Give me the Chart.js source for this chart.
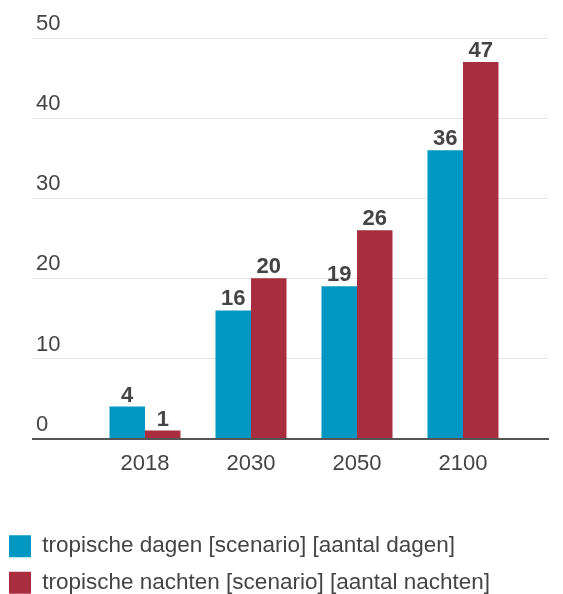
<!DOCTYPE html>
<html><head><meta charset="utf-8">
<script src="https://cdn.jsdelivr.net/npm/chart.js@4"></script>
<style>html,body{margin:0;padding:0;background:#fff}</style>
</head><body>
<canvas id="c" width="563" height="594"></canvas>
<script>
const categories = ['2018', '2030', '2050', '2100'];
const tropischeDagen = [4, 16, 19, 36];
const tropischeNachten = [1, 20, 26, 47];
const yTickValues = [0, 10, 20, 30, 40, 50];
const seriesNames = ['tropische dagen [scenario] [aantal dagen]', 'tropische nachten [scenario] [aantal nachten]'];
const seriesColors = ['#0097c2', '#a82e3f'];

const FONT = "'Liberation Sans', Arial, sans-serif";
Chart.defaults.font.family = FONT;

const valueLabels = {
  id: 'valueLabels',
  afterDatasetsDraw(chart) {
    const ctx = chart.ctx;
    ctx.save();
    ctx.font = 'bold 22px ' + FONT;
    ctx.fillStyle = '#444';
    ctx.textAlign = 'center';
    ctx.textBaseline = 'alphabetic';
    chart.data.datasets.forEach((ds, di) => {
      chart.getDatasetMeta(di).data.forEach((bar, i) => {
        ctx.fillText(String(ds.data[i].y), bar.x, bar.y - 5);
      });
    });
    ctx.restore();
  }
};

const legendPlace = {
  id: 'legendPlace',
  beforeDraw(chart) {
    const lg = chart.legend;
    lg.left = 9 - 14;
    lg.top = 535 - 14;
    lg.bottom = 594;
    lg.height = lg.bottom - lg.top;
  }
};

new Chart(document.getElementById('c'), {
  type: 'bar',
  data: {
    datasets: [
      { label: seriesNames[0], data: tropischeDagen.map((v, i) => ({ x: i, y: v })), backgroundColor: seriesColors[0] },
      { label: seriesNames[1], data: tropischeNachten.map((v, i) => ({ x: i, y: v })), backgroundColor: seriesColors[1] }
    ]
  },
  options: {
    responsive: false,
    animation: false,
    categoryPercentage: 0.67,
    barPercentage: 1,
    layout: { padding: { left: 0, right: 15, top: 38, bottom: 22 } },
    plugins: {
      tooltip: { enabled: false },
      legend: {
        position: 'bottom',
        align: 'start',
        labels: { boxWidth: 22, boxHeight: 22, padding: 14, color: '#444', font: { size: 22.5, family: FONT } }
      }
    },
    scales: {
      x: {
        type: 'linear',
        offset: false,
        min: -1.0566,
        max: 3.802,
        afterBuildTicks: (s) => { s.ticks = categories.map((c, i) => ({ value: i })); },
        grid: { display: false, drawTicks: false },
        border: { display: true, color: '#555', width: 2 },
        ticks: { callback: (v) => categories[v], color: '#444', padding: 12, font: { size: 22, family: FONT }, maxRotation: 0, autoSkip: false }
      },
      y: {
        min: 0,
        max: 50,
        afterBuildTicks: (s) => { s.ticks = yTickValues.map(v => ({ value: v })); },
        afterFit: (s) => { s.width = 33; s.paddingTop = 0; s.paddingBottom = 0; },
        grid: { color: '#e6e6e6', lineWidth: 1, drawTicks: false },
        border: { display: false },
        ticks: { mirror: true, padding: 3, labelOffset: -14, color: '#444', font: { size: 22, family: FONT } }
      }
    }
  },
  plugins: [valueLabels, legendPlace]
});
</script>
</body></html>
